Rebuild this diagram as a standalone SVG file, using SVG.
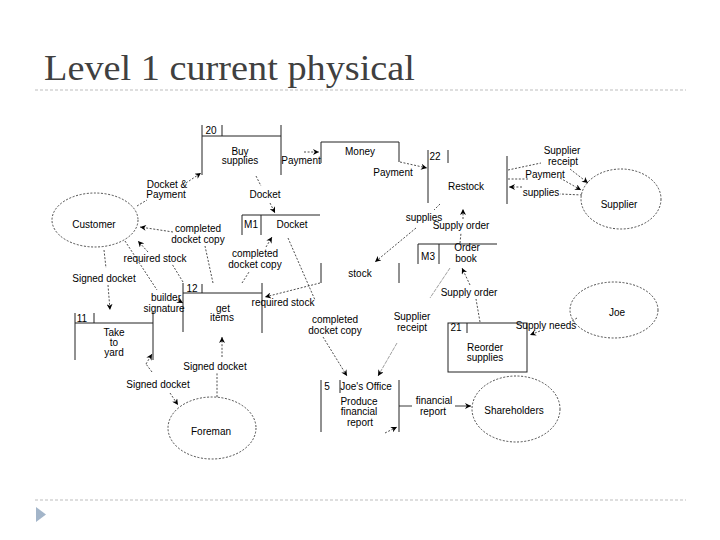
<svg xmlns="http://www.w3.org/2000/svg" width="720" height="540" viewBox="0 0 720 540">
<style>
.t{font-family:"Liberation Sans",Arial,sans-serif;font-size:10px;fill:#000;text-anchor:middle}
.b{fill:none;stroke:#222;stroke-width:1}
.e{fill:none;stroke:#222;stroke-width:0.8;stroke-dasharray:2,1.6}
.f{fill:none;stroke:#222;stroke-width:0.8;stroke-dasharray:2,1.6}
.g{fill:none;stroke:#888;stroke-width:0.8;stroke-dasharray:4,1}
.s{fill:none;stroke:#222;stroke-width:0.9}
.sep{stroke:#bdbdbd;stroke-width:1;stroke-dasharray:3,2}
</style>
<defs>
<marker id="a" viewBox="0 0 10 10" refX="10" refY="5" markerWidth="7" markerHeight="6" orient="auto" markerUnits="userSpaceOnUse">
<path d="M0,0 L10,5 L0,10 L3,5 z" fill="#000"/>
</marker>
</defs>
<rect width="720" height="540" fill="#fff"/>
<text x="44" y="80" font-family="Liberation Serif,Times New Roman,serif" font-size="35" fill="#404040" textLength="371" lengthAdjust="spacingAndGlyphs">Level 1 current physical</text>
<line class="sep" x1="35" y1="90" x2="686" y2="90"/>
<line class="sep" x1="35" y1="500" x2="686" y2="500"/>
<polygon points="36,507 46,514.5 36,522" fill="#a3b5c9"/>

<g id="customer"><ellipse class="e" cx="95" cy="220" rx="43" ry="27"/><text class="t" x="94" y="228">Customer</text></g>
<g id="supplier"><ellipse class="e" cx="621" cy="199" rx="40" ry="30"/><text class="t" x="619" y="208">Supplier</text></g>
<g id="joe"><ellipse class="e" cx="614" cy="310" rx="44" ry="28"/><text class="t" x="617" y="316">Joe</text></g>
<g id="foreman"><ellipse class="e" cx="212" cy="428" rx="44" ry="31"/><text class="t" x="211" y="435">Foreman</text></g>
<g id="shareholders"><ellipse class="e" cx="516" cy="409" rx="44" ry="33"/><text class="t" x="514" y="413.5">Shareholders</text></g>

<g id="p20"><path class="b" d="M202,125 V175 M202,136 H281 M281,125 V175 M222,125 V136"/><text class="t" x="211" y="134">20</text><text class="t" x="240" y="154.5">Buy</text><text class="t" x="240" y="164">supplies</text></g>
<g id="money"><path class="b" d="M321,163 V142 H399 V162"/><text class="t" x="360" y="154.5">Money</text></g>
<g id="p22"><path class="b" d="M428,150 V203 M448,150 V163 M507,156 V204"/><text class="t" x="435" y="160">22</text><text class="t" x="466" y="189.5">Restock</text></g>
<g id="m1"><path class="b" d="M242,235 V215 H320 M261,215 V235"/><text class="t" x="251" y="227.5">M1</text><text class="t" x="292" y="227.5">Docket</text></g>
<g id="stock"><path class="b" d="M321,263 V283 M399,263 V283"/><text class="t" x="360" y="277">stock</text></g>
<g id="m3"><path class="b" d="M418,264 V244 H497 M439,244 V264"/><text class="t" x="428" y="260">M3</text><text class="t" x="467" y="251">Order</text><text class="t" x="466" y="261.5">book</text></g>
<g id="p11"><path class="b" d="M75,313 V360 M75,323 H153 M153,312 V360 M94,313 V323"/><text class="t" x="82" y="321.5">11</text><text class="t" x="114" y="335.5">Take</text><text class="t" x="114" y="346">to</text><text class="t" x="114" y="356">yard</text></g>
<g id="p12"><path class="b" d="M183,283 V332 M183,293 H262 M262,283 V333 M202,284 V293"/><text class="t" x="192" y="292">12</text><text class="t" x="223" y="311.5">get</text><text class="t" x="222" y="321">items</text></g>
<g id="p21"><rect class="b" x="448" y="323" width="79" height="49"/><path class="b" d="M467,323 V333"/><text class="t" x="456" y="331">21</text><text class="t" x="485" y="350.5">Reorder</text><text class="t" x="485" y="360.5">supplies</text></g>
<g id="p5"><path class="b" d="M321,380 V432 M340,380 V393 M399,380 V432"/><text class="t" x="327" y="389.5">5</text><text class="t" x="366" y="389.5">Joe's Office</text><text class="t" x="359" y="404.5">Produce</text><text class="t" x="359" y="414.5">financial</text><text class="t" x="360" y="425.5">report</text></g>

<g id="connectors">
<path class="f" d="M137,206 L147,200"/><path class="f" d="M186,183 L201,173" marker-end="url(#a)"/>
<text class="t" x="167" y="187.5">Docket &amp;</text><text class="t" x="166" y="197.5">Payment</text>
<path class="f" d="M304,152 L319,152" marker-end="url(#a)"/>
<text class="t" x="301" y="164">Payment</text>
<path class="f" d="M400,162 L427,168" marker-end="url(#a)"/>
<text class="t" x="393" y="175.5">Payment</text>
<path class="f" d="M256,176 L261,186"/><path class="f" d="M270,203 L275,213" marker-end="url(#a)"/>
<text class="t" x="265" y="197.5">Docket</text>
<path class="f" d="M213,283 L205,246"/><path class="f" d="M173,232 L140,227" marker-end="url(#a)"/>
<text class="t" x="198" y="232">completed</text><text class="t" x="198" y="242.5">docket copy</text>
<path class="f" d="M183,282 L172,264"/><path class="f" d="M148,252 L138,241" marker-end="url(#a)"/>
<text class="t" x="155" y="261.5">required stock</text>
<path class="f" d="M125,241 L157,290"/><path class="f" d="M176,299 L183,303" marker-end="url(#a)"/>
<text class="t" x="166" y="301">builder</text><text class="t" x="164" y="311.5">signature</text>
<path class="f" d="M104,250 L106,268"/><path class="f" d="M108,285 L110,310" marker-end="url(#a)"/>
<text class="t" x="104" y="281.5">Signed docket</text>
<path class="f" d="M242,283 L249,272"/><path class="f" d="M266,247 L272,237" marker-end="url(#a)"/>
<text class="t" x="255" y="257">completed</text><text class="t" x="255" y="267.5">docket copy</text>
<path class="f" d="M288,238 L315,300"/><path class="f" d="M323,337 L347,376" marker-end="url(#a)"/>
<text class="t" x="335" y="323">completed</text><text class="t" x="335" y="333.5">docket copy</text>
<path class="f" d="M320,283 L265,297" marker-end="url(#a)"/>
<text class="t" x="283" y="306">required stock</text>
<path class="f" d="M440,204 L434,210"/><path class="f" d="M416,228 L375,262" marker-end="url(#a)"/>
<text class="t" x="424" y="220.5">supplies</text>
<path class="f" d="M460,243 L461,233"/><path class="f" d="M463,219 L463,209" marker-end="url(#a)"/>
<text class="t" x="461" y="228.5">Supply order</text>
<path class="f" d="M480,322 L476,299"/><path class="f" d="M470,285 L462,268" marker-end="url(#a)"/>
<text class="t" x="469" y="296">Supply order</text>
<path class="g" d="M450,268 L430,298"/><path class="g" d="M397,343 L378,376" marker-end="url(#a)"/>
<text class="t" x="412" y="320">Supplier</text><text class="t" x="412" y="330.5">receipt</text>
<path class="f" d="M508,170 L541,163"/><path class="f" d="M570,169 L588,183" marker-end="url(#a)"/>
<text class="t" x="562" y="153.5">Supplier</text><text class="t" x="563" y="164.5">receipt</text>
<path class="f" d="M508,179 L528,179"/><path class="f" d="M560,178 L581,190" marker-end="url(#a)"/>
<text class="t" x="545" y="177.5">Payment</text>
<path class="f" d="M582,195 L560,194"/><path class="f" d="M522,187 L509,187" marker-end="url(#a)"/>
<text class="t" x="541" y="196">supplies</text>
<path class="f" d="M577,318 L572,321"/><path class="f" d="M540,331 L530,335" marker-end="url(#a)"/>
<text class="t" x="546" y="328.5">Supply needs</text>
<path class="f" d="M217,397 L217,372"/><path class="f" d="M222,357 L222,337" marker-end="url(#a)"/>
<text class="t" x="215" y="369.5">Signed docket</text>
<path class="f" d="M152,372 L146,364"/><path class="f" d="M146,364 L152,354" marker-end="url(#a)"/><path class="f" d="M170,393 L178,405" marker-end="url(#a)"/>
<text class="t" x="158" y="387.5">Signed docket</text>
<path class="s" d="M399,406 L412,406"/><path class="s" d="M455,406 L471,406" marker-end="url(#a)"/>
<text class="t" x="434" y="404">financial</text><text class="t" x="433" y="414.5">report</text>
<path class="f" d="M385,433 L397,427" marker-end="url(#a)"/>
</g>
</svg>
